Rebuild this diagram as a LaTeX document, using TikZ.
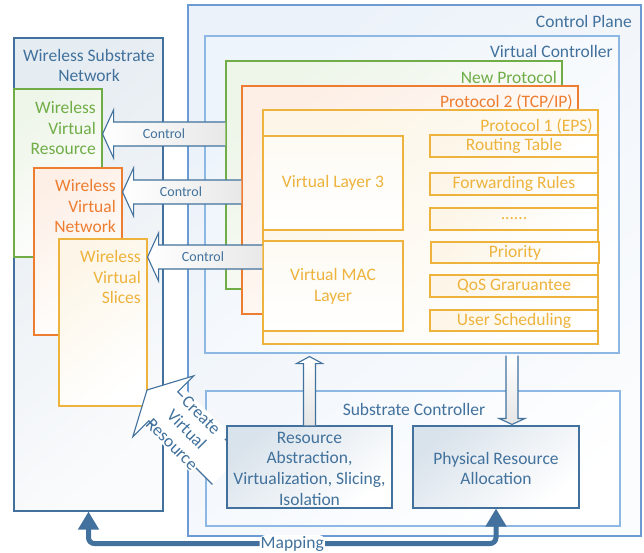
\documentclass[tikz,border=0pt]{standalone}
\usepackage{fontspec}
\setmainfont{Carlito}
\usetikzlibrary{calc}
\usetikzlibrary{positioning}
\usetikzlibrary{fit}
\usetikzlibrary{arrows.meta}

\definecolor{dblue}{HTML}{41719C}
\definecolor{cpline}{HTML}{6B9BD2}
\definecolor{vcline}{HTML}{8DB8E4}
\definecolor{vgreen}{HTML}{70AD47}
\definecolor{vorange}{HTML}{ED7D31}
\definecolor{vgold}{HTML}{EDB33C}

\newcommand{\mainsize}{\fontsize{17.5}{20.7}\selectfont}
\newcommand{\ctrlsize}{\fontsize{14}{17}\selectfont}

\tikzset{
  frame/.style={inner sep=0pt, line width=1.1pt},
  bluebox/.style={frame, draw=#1, top color=#1!13, bottom color=#1!3, shading angle=40},
  tintbox/.style={frame, draw=#1, top color=#1!12, bottom color=white, shading angle=40},
  slatebox/.style={frame, draw=dblue, top color=dblue!20, bottom color=white, shading angle=40},
  lbl/.style={inner sep=0pt, font=\mainsize, text=#1},
  ctrlarr/.style={draw=dblue, line width=1.1pt, line join=miter, left color=white, right color=black!9},
  ctrltext/.style={inner sep=0pt, font=\ctrlsize, text=dblue},
  updownarr/.style={draw=dblue, line width=1.1pt, line join=miter, top color=white, bottom color=black!10},
  maparrow/.style={draw=dblue, line width=5pt, rounded corners=6pt,
    {Triangle[width=20pt,length=18pt]}-{Triangle[width=20pt,length=18pt]}}
}

\newcommand{\ctrlarrow}[3]{%
  \path[ctrlarr] ($(#1.west |- #3)+(0,-12)$) -- ($(#2.east |- #3)+(11,-12)$)
    -- ($(#2.east |- #3)+(11,-24)$) -- (#2.east |- #3) -- ($(#2.east |- #3)+(11,24)$)
    -- ($(#2.east |- #3)+(11,12)$) -- ($(#1.west |- #3)+(0,12)$);}

\begin{document}
\begin{tikzpicture}[x=1pt, y=-1pt]
  \useasboundingbox (0,0) rectangle (644,553);

  % wireless side
  \node[bluebox=dblue, fit={(14,38) (163,511)}] (wsn) {};
  \node[lbl=dblue, align=center] (wsnlbl) at (89,65.5) {Wireless Substrate\\Network};
  \node[tintbox=vgreen, fit={(14,89) (102,257)}] (wvr) {};
  \node[lbl=vgreen, align=right, anchor=east] (wvrlbl) at (96,128) {Wireless\\Virtual\\Resource};
  \node[tintbox=vorange, fit={(34,168) (122,335)}] (wvn) {};
  \node[lbl=vorange, align=right, anchor=east] (wvnlbl) at (116,206) {Wireless\\Virtual\\Network};
  \node[tintbox=vgold, fit={(59,239) (147,406)}] (wvs) {};
  \node[lbl=vgold, align=right, anchor=east] (wvslbl) at (141,277) {Wireless\\Virtual\\Slices};

  % control plane
  \node[bluebox=cpline, fit={(188,5) (641,536)}] (cp) {};
  \node[lbl=dblue, anchor=east] (cplbl) at (632,21) {Control Plane};
  \node[frame, draw=vcline, top color=vcline!16, bottom color=white, shading angle=40,
    fit={(205,36) (619,353)}] (vc) {};
  \node[lbl=dblue, anchor=east] (vclbl) at (613,51) {Virtual Controller};
  \node[tintbox=vgreen, fit={(226,61) (562,289)}] (np) {};
  \node[lbl=vgreen, anchor=east] (nplbl) at (557,77) {New Protocol};
  \node[tintbox=vorange, fit={(242,86) (578,314)}] (ptwo) {};
  \node[lbl=vorange, anchor=east] (ptwolbl) at (573,102) {Protocol 2 (TCP/IP)};
  \node[tintbox=vgold, fit={(263,110) (598,344)}] (pone) {};
  \node[lbl=vgold, anchor=east] (ponelbl) at (593,126) {Protocol 1 (EPS)};

  \node[tintbox=vgold, top color=vgold!6, fit={(263,136) (403,230)}] (vlthree) {};
  \node[tintbox=vgold, top color=vgold!6, fit={(263,241) (403,331)}] (vmac) {};
  \node[tintbox=vgold, fit={(430,135) (598,157)}] (rtab) {};
  \node[tintbox=vgold, fit={(430,173) (598,195)}] (frul) {};
  \node[tintbox=vgold, fit={(430,208) (598,230)}] (more) {};
  \node[tintbox=vgold, fit={(431,242) (599,263)}] (prio) {};
  \node[tintbox=vgold, fit={(430,275) (598,297)}] (qos) {};
  \node[tintbox=vgold, fit={(430,310) (598,331)}] (usch) {};
  \node[lbl=vgold] (vlthreetxt) at (vlthree) {Virtual Layer 3};
  \node[lbl=vgold, align=center] (vmactxt) at (vmac) {Virtual MAC\\Layer};
  \node[lbl=vgold] (rtabtxt) at (rtab) {Routing Table};
  \node[lbl=vgold] (frultxt) at (frul) {Forwarding Rules};
  \node[lbl=vgold] (moretxt) at (more) {......};
  \node[lbl=vgold] (priotxt) at (prio) {Priority};
  \node[lbl=vgold] (qostxt) at (qos) {QoS Graruantee};
  \node[lbl=vgold] (uschtxt) at (usch) {User Scheduling};

  \node[frame, draw=vcline, top color=vcline!10, bottom color=white, shading angle=40,
    fit={(206,391) (620,526)}] (sc) {};
  \node[lbl=dblue] (sclbl) at (414,409) {Substrate Controller};

  % control arrows
  \coordinate (aone) at (164,134);
  \coordinate (atwo) at (181,192);
  \coordinate (athree) at (203,257);
  \ctrlarrow{np}{wvr}{aone}
  \ctrlarrow{ptwo}{wvn}{atwo}
  \ctrlarrow{pone}{wvs}{athree}
  \node[ctrltext] (cone) at (aone) {Control};
  \node[ctrltext] (ctwo) at (atwo) {Control};
  \node[ctrltext] (cthree) at (athree) {Control};

  % create virtual resource
  \coordinate (crtip) at (147,390);
  \begin{scope}[shift={(crtip)}, rotate=-45]
    \fill[white] (113,-20.5) -- (23,-20.5) -- (23,-43) -- (0,0) -- (23,43) -- (23,20.5) -- (113,20.5);
    \draw[dblue, line width=1.1pt] (23,-20.5) -- (113,-20.5) (23,20.5) -- (113,20.5);
    \node[lbl=dblue, fill=white, inner sep=1pt, rotate=-45, align=center] (crlbl) at (56,0)
      {Create\\Virtual\\Resource};
    \draw[dblue, line width=1.1pt, line join=miter]
      (30,-20.5) -- (23,-20.5) -- (23,-43) -- (0,0) -- (23,43) -- (23,20.5) -- (30,20.5);
  \end{scope}

  \node[slatebox, fit={(227,426) (392,508)}] (ra) {};
  \node[slatebox, fit={(413,426) (579,508)}] (pra) {};
  \node[lbl=dblue, align=center] (ratxt) at ($(ra)+(0,1.5)$) {Resource\\Abstraction,\\Virtualization, Slicing,\\Isolation};
  \node[lbl=dblue, align=center] (pratxt) at ($(pra)+(0,1.5)$) {Physical Resource\\Allocation};

  % up and down
  \path[updownarr] ($(ra.north)+(-6,0)$) -- ($(ra.north |- vc.south)+(-6,10)$)
    -- ($(ra.north |- vc.south)+(-13,10)$) -- ($(ra.north |- vc.south)+(0,3)$)
    -- ($(ra.north |- vc.south)+(13,10)$) -- ($(ra.north |- vc.south)+(6,10)$)
    -- ($(ra.north)+(6,0)$);
  \path[updownarr] ($(vc.south -| pra.north)+(10,2)$) -- ($(pra.north)+(10,-7)$)
    -- ($(pra.north)+(3,-7)$) -- ($(pra.north)+(16,-1)$) -- ($(pra.north)+(29,-7)$)
    -- ($(pra.north)+(22,-7)$) -- ($(vc.south -| pra.north)+(22,2)$);

  % mapping
  \draw[maparrow] (wsn.south) -- ++(0,32) -| (pra.south)
    node[pos=0.25, fill=white, inner sep=1pt, text=dblue, font=\mainsize] (maplbl) {Mapping};
\end{tikzpicture}
\end{document}
